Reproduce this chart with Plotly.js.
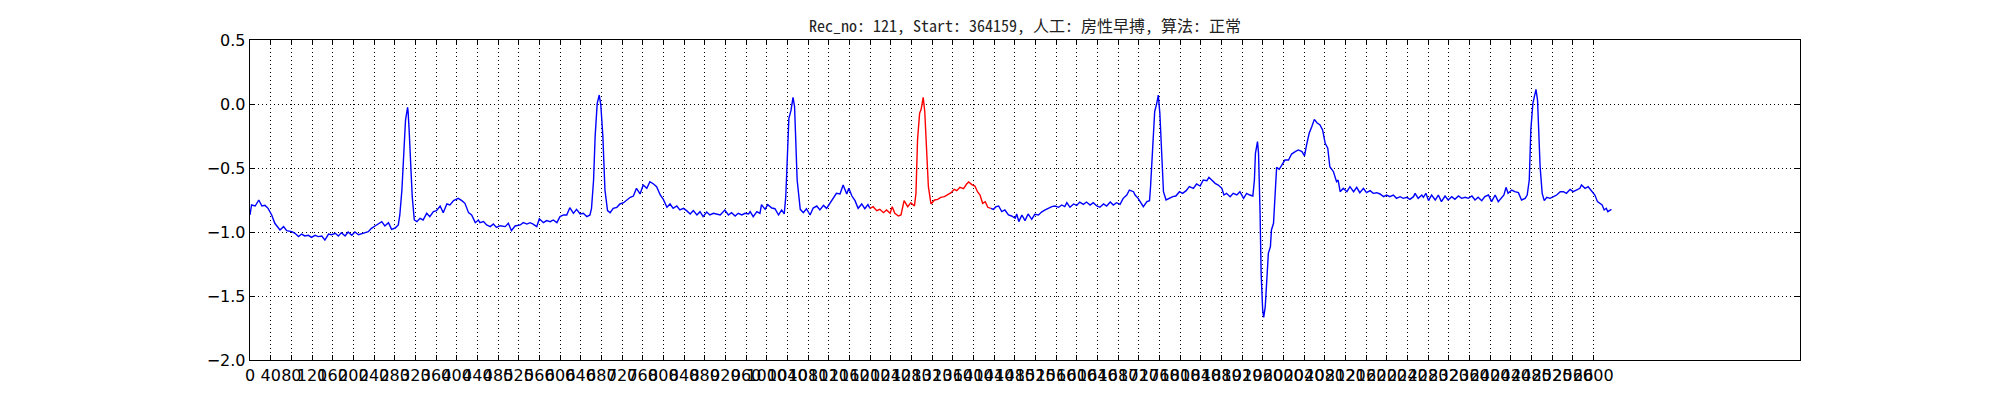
<!DOCTYPE html>
<html>
<head>
<meta charset="utf-8">
<script src="https://cdn.plot.ly/plotly-3.0.1.min.js"></script>
<style>
    html, body { margin: 0; padding: 0; background: #fff; }
    #ecgChart { width: 2000px; height: 400px; }
</style>
</head>
<body>
<div id="ecgChart"></div>
<script>
"use strict";

const chartTitle =
    "Rec_no: 121, Start: 364159, 人工: 房性早搏, 算法: 正常";

// sample index / amplitude, first blue stretch (before the marked beat)
const leadSamples = [
    0, 3, 10, 17, 23, 29, 35, 42, 48, 58, 65, 71, 81, 87, 94, 100, 106, 113,
    119, 126, 132, 139, 145, 152, 158, 165, 171, 177, 184, 190, 197, 203, 210,
    216, 223, 229, 235, 242, 248, 255, 261, 268, 274, 281, 287, 290, 294, 297,
    299, 301, 305, 306, 308, 311, 314, 318, 323, 329, 335, 342, 348, 355, 361,
    368, 374, 381, 387, 394, 403, 410, 416, 423, 429, 436, 442, 445, 452, 458,
    465, 471, 477, 484, 494, 500, 506, 513, 523, 529, 536, 542, 548, 555, 560,
    568, 574, 581, 587, 594, 600, 607, 613, 619, 626, 632, 639, 645, 652, 658,
    661, 665, 668, 672, 676, 679, 683, 687, 692, 697, 703, 710, 716, 723, 729,
    736, 742, 748, 755, 761, 768, 774, 781, 787, 794, 800, 807, 813, 819, 826,
    832, 839, 845, 852, 858, 865, 871, 877, 884, 890, 897, 903, 910, 919, 926,
    932, 939, 945, 952, 958, 965, 968, 974, 981, 987, 990, 997, 1002, 1010,
    1016, 1023, 1029, 1034, 1037, 1040, 1043, 1047, 1051, 1054, 1056, 1059,
    1065, 1071, 1077, 1084, 1090, 1097, 1103, 1110, 1116, 1123, 1129, 1135,
    1142, 1148, 1155, 1159, 1165, 1171, 1177, 1184, 1190, 1196, 1200,
];
const leadValues = [
    -0.867, -0.789, -0.797, -0.750, -0.797, -0.792, -0.815, -0.867, -0.932,
    -0.984, -0.958, -0.990, -0.997, -1.010, -1.036, -1.016, -1.031, -1.026,
    -1.042, -1.026, -1.036, -1.031, -1.063, -1.016, -1.021, -1.010, -1.031,
    -1.005, -1.031, -1.000, -1.026, -1.000, -1.021, -1.016, -1.005, -0.997,
    -0.971, -0.953, -0.938, -0.919, -0.953, -0.927, -0.979, -0.969, -0.945,
    -0.867, -0.672, -0.464, -0.255, -0.125, -0.026, -0.060, -0.203, -0.464,
    -0.724, -0.906, -0.919, -0.893, -0.906, -0.854, -0.880, -0.841, -0.833,
    -0.797, -0.849, -0.781, -0.789, -0.755, -0.737, -0.755, -0.776, -0.849,
    -0.867, -0.927, -0.906, -0.927, -0.919, -0.945, -0.958, -0.938, -0.964,
    -0.951, -0.958, -0.932, -0.990, -0.953, -0.945, -0.927, -0.938, -0.927,
    -0.938, -0.958, -0.896, -0.927, -0.911, -0.919, -0.906, -0.927, -0.880,
    -0.867, -0.867, -0.810, -0.854, -0.823, -0.859, -0.854, -0.880, -0.867,
    -0.815, -0.594, -0.255, 0.005, 0.070, -0.008, -0.255, -0.672, -0.833,
    -0.849, -0.815, -0.807, -0.781, -0.771, -0.750, -0.729, -0.719, -0.659,
    -0.703, -0.633, -0.659, -0.607, -0.625, -0.646, -0.711, -0.745, -0.807,
    -0.781, -0.815, -0.797, -0.828, -0.815, -0.833, -0.859, -0.833, -0.867,
    -0.841, -0.880, -0.844, -0.867, -0.854, -0.859, -0.867, -0.828, -0.867,
    -0.849, -0.875, -0.854, -0.867, -0.854, -0.859, -0.841, -0.880, -0.841,
    -0.854, -0.786, -0.823, -0.786, -0.813, -0.818, -0.867, -0.828, -0.859,
    -0.724, -0.411, -0.112, -0.052, 0.052, -0.021, -0.255, -0.594, -0.823,
    -0.849, -0.818, -0.867, -0.813, -0.797, -0.828, -0.792, -0.815, -0.771,
    -0.737, -0.698, -0.703, -0.633, -0.703, -0.659, -0.719, -0.755, -0.815,
    -0.781, -0.818, -0.786, -0.815,
];

// the marked beat, drawn red
const markSamples = [
    1200, 1206, 1213, 1219, 1226, 1232, 1239, 1243, 1248, 1255, 1260, 1266,
    1273, 1279, 1286, 1289, 1292, 1296, 1299, 1303, 1306, 1309, 1313, 1318,
    1325, 1331, 1337, 1344, 1350, 1357, 1363, 1368, 1374, 1381, 1387, 1391,
    1397, 1403, 1408, 1413, 1418, 1423, 1428, 1434,
];
const markValues = [
    -0.815, -0.802, -0.833, -0.823, -0.849, -0.828, -0.854, -0.802, -0.854,
    -0.875, -0.867, -0.755, -0.802, -0.771, -0.797, -0.698, -0.281, -0.073,
    -0.042, 0.052, -0.060, -0.333, -0.646, -0.781, -0.750, -0.745, -0.729,
    -0.724, -0.711, -0.693, -0.667, -0.677, -0.651, -0.661, -0.625, -0.609,
    -0.630, -0.641, -0.685, -0.711, -0.776, -0.763, -0.807, -0.815,
];

// second blue stretch (after the marked beat)
const tailSamples = [
    1434, 1439, 1444, 1449, 1455, 1461, 1468, 1474, 1481, 1484, 1488, 1494,
    1500, 1506, 1513, 1519, 1526, 1532, 1539, 1545, 1552, 1558, 1565, 1571,
    1577, 1581, 1587, 1594, 1600, 1606, 1613, 1619, 1626, 1632, 1639, 1645,
    1652, 1658, 1665, 1671, 1677, 1684, 1690, 1697, 1702, 1710, 1713, 1719,
    1726, 1729, 1736, 1741, 1743, 1746, 1748, 1751, 1755, 1758, 1761, 1765,
    1768, 1773, 1779, 1786, 1792, 1799, 1805, 1812, 1818, 1826, 1832, 1839,
    1845, 1852, 1856, 1861, 1868, 1874, 1881, 1885, 1890, 1897, 1903, 1910,
    1916, 1923, 1929, 1935, 1941, 1944, 1946, 1950, 1952, 1955, 1957, 1960,
    1962, 1965, 1968, 1971, 1975, 1977, 1981, 1984, 1987, 1992, 1997, 2003,
    2010, 2016, 2023, 2029, 2036, 2041, 2045, 2050, 2055, 2060, 2065, 2071,
    2076, 2081, 2086, 2090, 2097, 2103, 2106, 2110, 2116, 2123, 2129, 2136,
    2142, 2148, 2155, 2161, 2168, 2174, 2181, 2187, 2194, 2200, 2206, 2213,
    2219, 2226, 2232, 2239, 2245, 2252, 2255, 2261, 2268, 2271, 2276, 2281,
    2287, 2294, 2300, 2306, 2313, 2319, 2326, 2332, 2339, 2345, 2352, 2358,
    2365, 2371, 2377, 2384, 2390, 2397, 2403, 2410, 2416, 2423, 2427, 2431,
    2435, 2442, 2448, 2455, 2461, 2468, 2472, 2476, 2479, 2483, 2486, 2489,
    2492, 2494, 2497, 2501, 2505, 2510, 2516, 2523, 2529, 2536, 2542, 2548,
    2555, 2561, 2568, 2574, 2577, 2584, 2590, 2597, 2603, 2608, 2613, 2617,
    2621, 2625, 2628, 2632, 2635,
];
const tailValues = [
    -0.815, -0.823, -0.802, -0.797, -0.841, -0.828, -0.867, -0.875, -0.893,
    -0.859, -0.919, -0.867, -0.911, -0.859, -0.901, -0.862, -0.867, -0.844,
    -0.828, -0.813, -0.802, -0.797, -0.807, -0.789, -0.802, -0.771, -0.807,
    -0.781, -0.792, -0.766, -0.784, -0.766, -0.789, -0.771, -0.797, -0.807,
    -0.781, -0.797, -0.766, -0.789, -0.771, -0.784, -0.737, -0.711, -0.672,
    -0.685, -0.711, -0.737, -0.776, -0.802, -0.763, -0.755, -0.646, -0.438,
    -0.203, -0.060, 0.005, 0.070, -0.073, -0.385, -0.685, -0.750, -0.737,
    -0.724, -0.719, -0.685, -0.698, -0.677, -0.646, -0.659, -0.625, -0.641,
    -0.594, -0.599, -0.573, -0.594, -0.620, -0.633, -0.659, -0.711, -0.698,
    -0.724, -0.698, -0.711, -0.685, -0.737, -0.698, -0.711, -0.719, -0.594,
    -0.385, -0.294, -0.385, -0.854, -1.323, -1.609, -1.667, -1.583, -1.375,
    -1.167, -1.115, -0.984, -0.932, -0.672, -0.495, -0.510, -0.477, -0.438,
    -0.438, -0.391, -0.372, -0.359, -0.372, -0.406, -0.320, -0.229, -0.177,
    -0.120, -0.146, -0.164, -0.203, -0.307, -0.346, -0.490, -0.529, -0.607,
    -0.594, -0.685, -0.659, -0.685, -0.646, -0.685, -0.651, -0.693, -0.659,
    -0.693, -0.677, -0.698, -0.693, -0.703, -0.724, -0.711, -0.724, -0.711,
    -0.737, -0.724, -0.737, -0.729, -0.745, -0.724, -0.698, -0.737, -0.711,
    -0.729, -0.698, -0.755, -0.711, -0.750, -0.711, -0.763, -0.719, -0.750,
    -0.724, -0.745, -0.719, -0.737, -0.729, -0.737, -0.719, -0.750, -0.729,
    -0.755, -0.724, -0.711, -0.763, -0.711, -0.763, -0.724, -0.711, -0.651,
    -0.698, -0.672, -0.685, -0.693, -0.750, -0.737, -0.711, -0.594, -0.203,
    0.005, 0.057, 0.115, 0.031, -0.203, -0.490, -0.698, -0.755, -0.729,
    -0.737, -0.724, -0.711, -0.685, -0.685, -0.698, -0.667, -0.685, -0.672,
    -0.659, -0.633, -0.659, -0.646, -0.685, -0.711, -0.763, -0.776, -0.789,
    -0.828, -0.815, -0.841, -0.828, -0.823,
];

const xTickValues = [
    0, 40, 80, 120, 160, 200, 240, 280, 320, 360, 400, 440, 480, 520, 560,
    600, 640, 680, 720, 760, 800, 840, 880, 920, 960, 1000, 1040, 1080, 1120,
    1160, 1200, 1240, 1280, 1320, 1360, 1400, 1440, 1480, 1520, 1560, 1600,
    1640, 1680, 1720, 1760, 1800, 1840, 1880, 1920, 1960, 2000, 2040, 2080,
    2120, 2160, 2200, 2240, 2280, 2320, 2360, 2400, 2440, 2480, 2520, 2560,
    2600,
];
const yTickValues = [0.5, 0.0, -0.5, -1.0, -1.5, -2.0];

document.addEventListener("DOMContentLoaded", () => {
    const gridStyle = {
        showgrid: true,
        gridcolor: "#000",
        gridwidth: 1,
        griddash: "1px,3px",
        zeroline: false,
        showline: true,
        linecolor: "#000",
        linewidth: 1.3,
        mirror: "allticks",
        ticks: "inside",
        ticklen: 5,
        tickcolor: "#000",
        tickwidth: 1,
        tickfont: {
            family: "DejaVu Sans, sans-serif",
            size: 16,
            color: "#000",
        },
    };

    const traces = [
        {
            type: "scatter",
            mode: "lines",
            x: leadSamples.concat([null], tailSamples),
            y: leadValues.concat([null], tailValues),
            line: { color: "#0000ff", width: 1.4 },
            hoverinfo: "skip",
        },
        {
            type: "scatter",
            mode: "lines",
            x: markSamples,
            y: markValues,
            line: { color: "#ff0000", width: 1.4 },
            hoverinfo: "skip",
        },
    ];

    Plotly.newPlot(
        "ecgChart",
        traces,
        {
            width: 2000,
            height: 400,
            showlegend: false,
            margin: { t: 40, r: 200, b: 40, l: 250, pad: 0 },
            paper_bgcolor: "#fff",
            plot_bgcolor: "#fff",
            title: {
                text: chartTitle,
                font: {
                    family: "Noto Sans Mono CJK SC, Noto Sans CJK SC, monospace",
                    size: 16,
                    color: "#222",
                },
                xref: "paper",
                x: 0.5,
                xanchor: "center",
                yref: "container",
                y: 0.935,
                yanchor: "middle",
            },
            xaxis: Object.assign({}, gridStyle, {
                range: [0, 3000],
                tickmode: "array",
                tickvals: xTickValues,
                ticktext: xTickValues.map(String),
                tickangle: 0,
            }),
            yaxis: Object.assign({}, gridStyle, {
                range: [-2.0, 0.5],
                tickmode: "array",
                tickvals: yTickValues,
                tickformat: ".1f",
            }),
        },
        {
            staticPlot: true,
            displayModeBar: false,
        }
    );
});
</script>
</body>
</html>
